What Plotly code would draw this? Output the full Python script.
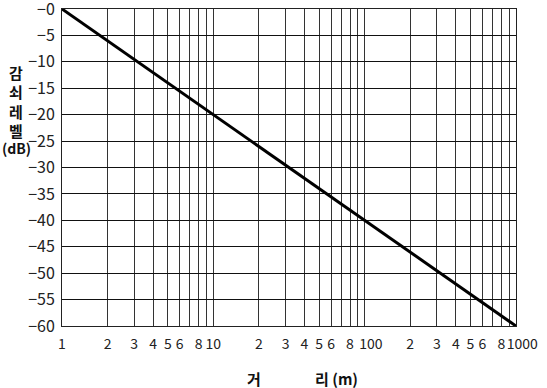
import plotly.graph_objects as go

# Data
distance_m = [1, 1000]
attenuation_db = [0, -60]

NB = "\u00a0"
x_tick_vals = [1, 2, 3, 4, 5, 6, 7, 8, 9,
               10, 20, 30, 40, 50, 60, 70, 80, 90,
               100, 200, 300, 400, 500, 600, 700, 800, 900, 1000]
x_tick_text = ["1", "2", "3", "4", "5", "6", "", "8", "",
               "10", "2", "3", "4", "5", "6", "", "8", "",
               NB * 4 + "100", "2", "3", "4", "5", "6", "", "8", "", NB * 4 + "1000"]
y_tick_vals = [0, -5, -10, -15, -20, -25, -30, -35, -40, -45, -50, -55, -60]
y_tick_text = ["\u2212" + str(abs(v)) for v in y_tick_vals]

y_title_chars = ["감", "쇠", "레", "벨", "(dB)"]
x_title_parts = ["거", "리 (m)"]

FONT = "Noto Sans CJK KR"

fig = go.Figure()
fig.add_trace(go.Scatter(
    x=distance_m, y=attenuation_db, mode="lines",
    line=dict(color="black", width=3), showlegend=False, hoverinfo="skip"))

fig.update_layout(
    width=547, height=388,
    margin=dict(l=62, r=31, t=9, b=62),
    plot_bgcolor="white", paper_bgcolor="white",
    font=dict(family=FONT, size=15, color="#222"),
    xaxis=dict(
        type="log", range=[0, 3], automargin=False,
        tickmode="array", tickvals=x_tick_vals, ticktext=x_tick_text,
        tickangle=0, ticklabeloverflow="allow",
        showgrid=True, gridcolor="#333", gridwidth=1,
        showline=True, linecolor="#222", linewidth=1, mirror=True,
        ticks="", ticklabelstandoff=5, zeroline=False,
        tickfont=dict(family=FONT, size=14, color="#222"),
    ),
    yaxis=dict(
        range=[-60, 0], automargin=False,
        tickmode="array", tickvals=y_tick_vals, ticktext=y_tick_text,
        ticklabeloverflow="allow",
        showgrid=True, gridcolor="#111", gridwidth=1,
        showline=True, linecolor="#222", linewidth=1, mirror=True,
        ticks="", ticklabelstandoff=3, zeroline=False,
        tickfont=dict(family=FONT, size=16, color="#222"),
    ),
)

# stacked vertical y-axis title
y_positions = [73, 92, 111, 130, 148]
for ch, yp in zip(y_title_chars, y_positions):
    fig.add_annotation(
        text="<b>%s</b>" % ch, xref="paper", yref="paper",
        x=(16 - 62) / 454, y=1 - (yp - 9) / 317,
        xanchor="center", yanchor="middle", showarrow=False,
        font=dict(family=FONT, size=15 if ch != "(dB)" else 14, color="#111"))

# x-axis title with wide gap
x_title_y = 378
fig.add_annotation(
    text="<b>%s</b>" % x_title_parts[0], xref="paper", yref="paper",
    x=(254 - 62) / 454, y=-(x_title_y - 326) / 317,
    xanchor="center", yanchor="middle", showarrow=False,
    font=dict(family=FONT, size=15, color="#111"))
fig.add_annotation(
    text="<b>%s</b>" % x_title_parts[1], xref="paper", yref="paper",
    x=(313 - 62) / 454, y=-(x_title_y - 326) / 317,
    xanchor="left", yanchor="middle", showarrow=False,
    font=dict(family=FONT, size=15, color="#111"))

fig.write_html("out.html", config={"displayModeBar": False},
               post_script="document.body.style.margin='0';")
